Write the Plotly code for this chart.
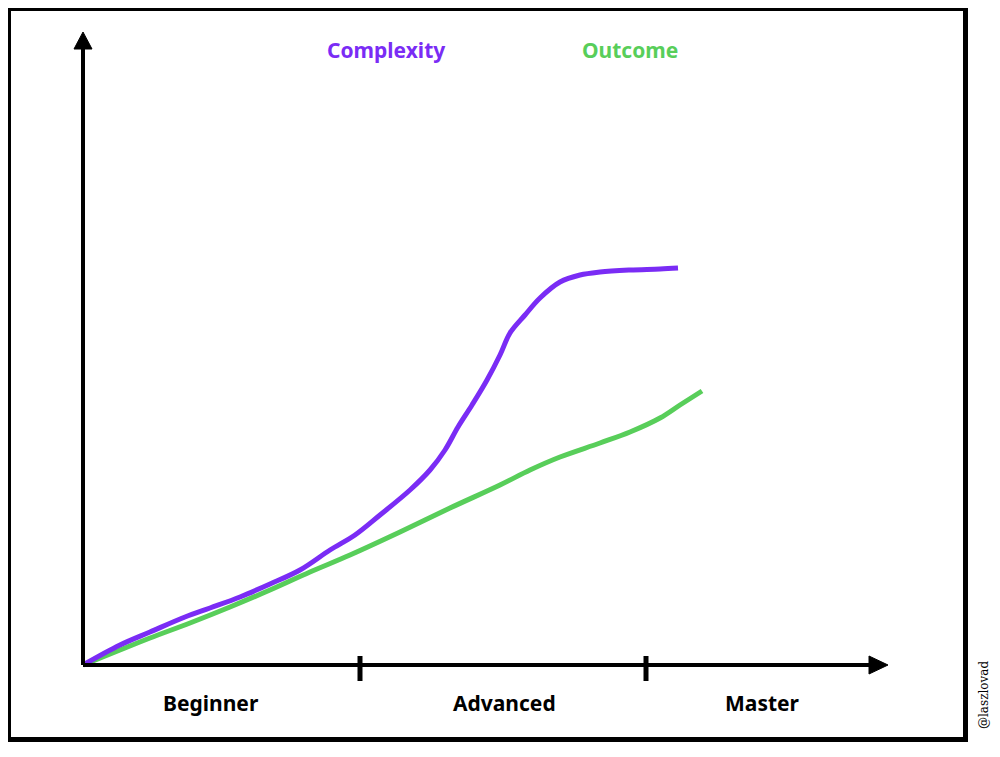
import plotly.graph_objects as go

# Data (x: progress along the skill axis, y: level), origin at (0, 0)
complexity_x = [0, 37, 67, 102, 127, 157, 187, 217, 247, 272, 297, 327, 347, 362, 375, 389, 404, 417, 427, 442, 457, 477, 497, 517, 547, 577, 595]
complexity_y = [0, 20, 33, 48, 57, 68, 81, 95, 115, 130, 150, 175, 195, 215, 238, 260, 285, 310, 332, 350, 367, 383, 390, 393, 395, 396, 397]
outcome_x = [0, 37, 67, 107, 147, 187, 227, 267, 317, 367, 417, 447, 477, 517, 547, 577, 597, 619]
outcome_y = [0, 15, 27, 42, 58, 75, 93, 110, 133, 157, 180, 195, 208, 222, 233, 247, 260, 274]

stage_labels = ["Beginner", "Advanced", "Master"]
stage_label_x = [128, 421, 679]
stage_ticks = [277, 563]
series_names = ["Complexity", "Outcome"]
series_label_x = [303, 547]

PURPLE = "#7A2CF5"
GREEN = "#58CE5A"
FONT = "Noto Sans"

fig = go.Figure()
fig.add_trace(go.Scatter(x=outcome_x, y=outcome_y, mode="lines",
                         line=dict(color=GREEN, width=5, shape="spline"),
                         name=series_names[1], hoverinfo="skip"))
fig.add_trace(go.Scatter(x=complexity_x, y=complexity_y, mode="lines",
                         line=dict(color=PURPLE, width=5, shape="spline"),
                         name=series_names[0], hoverinfo="skip"))

shapes = []
# outer frame
shapes.append(dict(type="rect", xref="x", yref="y", x0=-74.5, x1=882.5, y0=-74.5, y1=656.5,
                   line=dict(color="black", width=5), layer="below"))
# axes
shapes.append(dict(type="line", xref="x", yref="y", x0=0, x1=790, y0=0, y1=0,
                   line=dict(color="black", width=4)))
shapes.append(dict(type="line", xref="x", yref="y", x0=0, x1=0, y0=0, y1=618,
                   line=dict(color="black", width=4)))
# arrow heads
shapes.append(dict(type="path", xref="x", yref="y", path="M 786 -9 L 805 0 L 786 9 Z",
                   fillcolor="black", line=dict(color="black", width=1)))
shapes.append(dict(type="path", xref="x", yref="y", path="M -9 616 L 0 633 L 9 616 Z",
                   fillcolor="black", line=dict(color="black", width=1)))
# stage ticks
for tx in stage_ticks:
    shapes.append(dict(type="line", xref="x", yref="y", x0=tx, x1=tx, y0=-16, y1=9,
                       line=dict(color="black", width=5)))

annotations = []
for lbl, lx in zip(stage_labels, stage_label_x):
    annotations.append(dict(x=lx, y=-38, xref="x", yref="y", text=lbl, showarrow=False,
                            font=dict(family=FONT, size=21, color="black", weight="bold")))
for name, lx, col in zip(series_names, series_label_x, [PURPLE, GREEN]):
    annotations.append(dict(x=lx, y=615, xref="x", yref="y", text=name, showarrow=False,
                            font=dict(family=FONT, size=21, color=col, weight="bold")))
annotations.append(dict(x=901, y=-30, xref="x", yref="y", text="@laszlovad", showarrow=False,
                        textangle=-90, font=dict(family="DejaVu Serif", size=12, color="black")))

fig.update_layout(
    width=1000, height=757,
    margin=dict(l=0, r=0, t=0, b=0),
    paper_bgcolor="white", plot_bgcolor="white",
    showlegend=False,
    xaxis=dict(range=[-75, 925], visible=False, fixedrange=True),
    yaxis=dict(range=[-100, 657], visible=False, fixedrange=True),
    shapes=shapes, annotations=annotations,
)

fig.write_html("out.html", config={"displayModeBar": False})
